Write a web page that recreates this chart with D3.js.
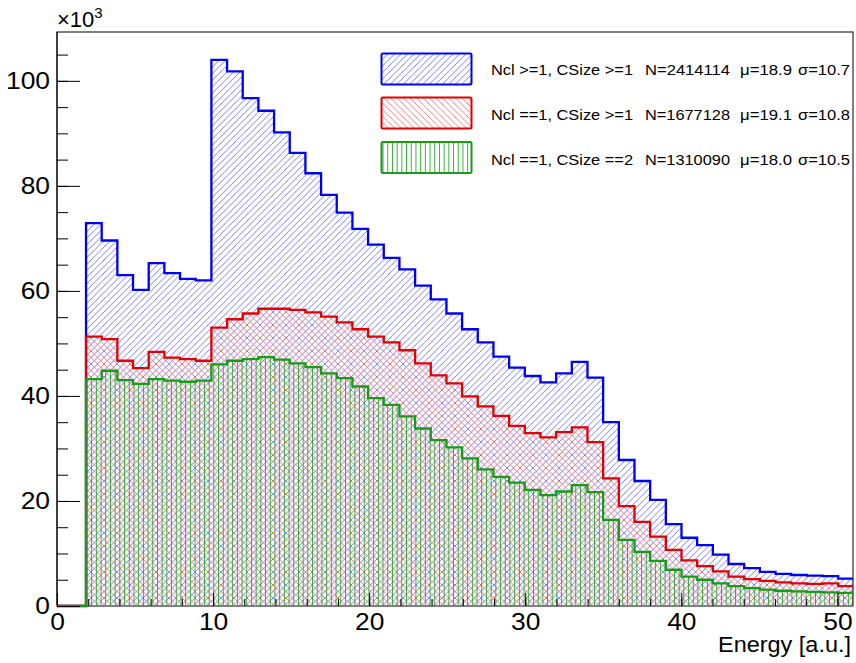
<!DOCTYPE html>
<html>
<head>
<meta charset="utf-8">
<script src="https://cdn.jsdelivr.net/npm/d3@7"></script>
<style>
  html, body { margin: 0; padding: 0; background: #fff; }
  svg { display: block; }
  text { font-family: "Liberation Sans", Arial, Helvetica, sans-serif; fill: #000; }
</style>
</head>
<body>
<svg id="chart" width="856" height="663"></svg>
<script>
// ---------------- data (counts in units of 10^3) ----------------
const binStart = 1.86;   // low edge of the first filled bin [a.u.]
const binWidth = 1.004;  // bin width [a.u.]
const seriesNames = ["Ncl >=1, CSize >=1", "Ncl ==1, CSize >=1", "Ncl ==1, CSize ==2"];
const seriesN = ["N=2414114", "N=1677128", "N=1310090"];
const seriesMu = ["\u03bc=18.9", "\u03bc=19.1", "\u03bc=18.0"];
const seriesSigma = ["\u03c3=10.7", "\u03c3=10.8", "\u03c3=10.5"];

const blueCounts = [72.9,69.6,63.0,60.2,65.3,63.4,62.3,62.0,104.0,101.8,96.7,94.3,90.2,86.3,82.4,78.3,74.9,71.8,68.8,66.3,64.1,61.0,58.4,55.7,52.7,50.2,47.5,45.4,43.8,42.6,44.3,46.5,43.5,35.0,27.8,23.8,20.2,15.6,13.0,11.6,9.8,8.0,7.2,6.5,6.1,5.9,5.8,5.7,5.2];
const redCounts = [51.3,50.8,46.7,45.3,48.4,47.3,47.0,46.7,53.0,54.6,55.7,56.6,56.6,56.4,55.9,55.1,54.0,52.7,51.3,50.2,48.7,46.2,43.9,42.4,39.9,38.0,36.2,34.3,32.9,32.1,33.1,34.0,31.2,24.3,19.0,16.0,13.2,10.7,8.7,7.6,6.6,5.6,5.1,4.8,4.5,4.3,4.2,4.3,3.8];
const greenCounts = [43.2,44.8,43.0,42.3,43.2,42.9,42.7,42.9,46.0,46.7,47.0,47.4,46.9,46.2,45.5,44.3,43.4,41.8,39.6,38.3,36.1,33.8,31.6,30.2,28.1,26.0,24.6,23.5,22.1,21.1,21.8,23.0,21.7,16.4,12.6,10.3,8.6,6.9,5.6,5.0,4.3,3.8,3.4,3.1,2.9,2.8,2.7,2.6,2.5];

const xMajorTicks = [0,10,20,30,40,50];
const xMinorTicks = d3.range(0, 52, 2);
const yMajorTicks = [0,20,40,60,80,100];
const yMinorTicks = d3.range(0, 110, 5);
const xTitle = "Energy [a.u.]";

// ---------------- layout ----------------
const frame = {left: 57, top: 32, right: 853, bottom: 606};
const xDomain = [0, 51];
const yDomain = [0, 109.3];

const svg = d3.select("#chart");
const x = d3.scaleLinear().domain(xDomain).range([frame.left, frame.right]);
const y = d3.scaleLinear().domain(yDomain).range([frame.bottom, frame.top]);

const colors = { blue: "#0000f0", red: "#e00000", green: "#1a9a1a" };

// ---------------- patterns ----------------
const defs = svg.append("defs");
defs.append("clipPath").attr("id", "frameClip")
  .append("rect").attr("x", frame.left).attr("y", frame.top)
  .attr("width", frame.right - frame.left).attr("height", frame.bottom - frame.top);
defs.append("clipPath").attr("id", "lineClip")
  .append("rect").attr("x", frame.left).attr("y", frame.top)
  .attr("width", frame.right - frame.left).attr("height", frame.bottom - frame.top + 1.5);

function hatch(id, w, h, lines, color, width) {
  const p = defs.append("pattern").attr("id", id)
    .attr("patternUnits", "userSpaceOnUse").attr("width", w).attr("height", h);
  lines.forEach(l => p.append("line")
    .attr("x1", l[0]).attr("y1", l[1]).attr("x2", l[2]).attr("y2", l[3])
    .attr("stroke", color).attr("stroke-width", width));
}
const s = 6.5;
hatch("hBlue", s, s, [[0, s, s, 0], [-s/2, s/2, s/2, -s/2], [s/2, s*1.5, s*1.5, s/2]], "#6a6af2", 0.9);
hatch("hRed", s, s, [[0, 0, s, s], [-s/2, s/2, s/2, s*1.5], [s/2, -s/2, s*1.5, s/2]], "#f47070", 0.9);
hatch("hGreen", 4.7, 10, [[2.35, 0, 2.35, 10]], "#22a822", 0.9);

// frame (drawn first so the histogram outlines sit on top of it)
svg.append("rect").attr("x", frame.left).attr("y", frame.top)
  .attr("width", frame.right - frame.left).attr("height", frame.bottom - frame.top)
  .attr("fill", "none").attr("stroke", "#000").attr("stroke-width", 1);

// ---------------- histogram helpers ----------------
function edges(counts) {
  return counts.map((c, i) => ({x0: binStart + i * binWidth, x1: binStart + (i + 1) * binWidth, v: c}));
}
function outlinePath(counts) {
  const b = edges(counts);
  let d = `M${x(xDomain[0])},${y(0)} L${x(b[0].x0)},${y(0)}`;
  b.forEach(e => { d += ` L${x(e.x0)},${y(e.v)} L${x(e.x1)},${y(e.v)}`; });
  d += ` L${x(b[b.length - 1].x1)},${y(0)}`;
  return d;
}
function areaPath(counts) {
  const b = edges(counts);
  let d = `M${x(b[0].x0)},${y(0)}`;
  b.forEach(e => { d += ` L${x(e.x0)},${y(e.v)} L${x(e.x1)},${y(e.v)}`; });
  d += ` L${x(b[b.length - 1].x1)},${y(0)} Z`;
  return d;
}

const plot = svg.append("g").attr("clip-path", "url(#frameClip)");
const lines = svg.append("g").attr("clip-path", "url(#lineClip)");
const hists = [
  {counts: blueCounts, color: colors.blue, fill: "url(#hBlue)"},
  {counts: redCounts, color: colors.red, fill: "url(#hRed)"},
  {counts: greenCounts, color: colors.green, fill: "url(#hGreen)"}
];
hists.forEach(h => {
  plot.append("path").attr("d", areaPath(h.counts)).attr("fill", h.fill).attr("stroke", "none");
});
hists.forEach(h => {
  lines.append("path").attr("d", outlinePath(h.counts)).attr("fill", "none")
    .attr("stroke", h.color).attr("stroke-width", 2.3).attr("stroke-linejoin", "miter");
});

// ---------------- axes ----------------
const axisFont = 24;
const digitW = 0.556 * axisFont * 1.1;
const gy = svg.append("g").attr("transform", `translate(${frame.left},0)`);
gy.call(d3.axisLeft(y).tickValues(yMinorTicks).tickSizeInner(-11).tickSizeOuter(0).tickFormat(""));
gy.call(g => g.select(".domain").remove());
const gy2 = svg.append("g").attr("transform", `translate(${frame.left},0)`);
gy2.call(d3.axisLeft(y).tickValues(yMajorTicks).tickSizeInner(-23).tickSizeOuter(0).tickPadding(7).tickFormat(d3.format("d")));
gy2.call(g => g.select(".domain").remove());
gy2.selectAll("text").attr("font-size", axisFont).attr("font-family", "Liberation Sans, Arial, sans-serif")
  .attr("textLength", d => String(d).length * digitW).attr("lengthAdjust", "spacingAndGlyphs");

const gx = svg.append("g").attr("transform", `translate(0,${frame.bottom})`);
gx.call(d3.axisBottom(x).tickValues(xMinorTicks).tickSizeInner(-7).tickSizeOuter(0).tickFormat(""));
gx.call(g => g.select(".domain").remove());
const gx2 = svg.append("g").attr("transform", `translate(0,${frame.bottom})`);
gx2.call(d3.axisBottom(x).tickValues(xMajorTicks).tickSizeInner(-13).tickSizeOuter(0).tickPadding(7).tickFormat(d3.format("d")));
gx2.call(g => g.select(".domain").remove());
gx2.selectAll("text").attr("font-size", axisFont).attr("font-family", "Liberation Sans, Arial, sans-serif")
  .attr("textLength", d => String(d).length * digitW).attr("lengthAdjust", "spacingAndGlyphs");
svg.selectAll(".tick line").attr("stroke", "#000").attr("stroke-width", 1);

// left axis line on top of everything (except the zero-line of the histograms)
svg.append("line").attr("x1", frame.left).attr("x2", frame.left)
  .attr("y1", frame.top).attr("y2", frame.bottom - 1).attr("stroke", "#000").attr("stroke-width", 1);

// x title
svg.append("text").attr("x", frame.right - 2).attr("y", 652).attr("text-anchor", "end")
  .attr("font-size", 22).attr("textLength", 133).attr("lengthAdjust", "spacingAndGlyphs").text(xTitle);

// exponent
const ex = svg.append("text").attr("x", frame.left).attr("y", 27).attr("font-size", 22);
ex.append("tspan").text("\u00d710");
ex.append("tspan").attr("dy", -9).attr("font-size", 15).text("3");

// ---------------- legend ----------------
const legend = svg.append("g");
const legRows = [
  {fill: "url(#hBlue)", color: colors.blue, y: 53.5, base: 75},
  {fill: "url(#hRed)", color: colors.red, y: 97.5, base: 120},
  {fill: "url(#hGreen)", color: colors.green, y: 142, base: 165}
];
const legCols = [
  {x: 491, w: 142, arr: seriesNames},
  {x: 645, w: 85, arr: seriesN},
  {x: 740, w: 52, arr: seriesMu},
  {x: 798, w: 52, arr: seriesSigma}
];
legRows.forEach((r, i) => {
  legend.append("rect").attr("x", 381.5).attr("y", r.y).attr("width", 90).attr("height", 31)
    .attr("fill", r.fill).attr("stroke", r.color).attr("stroke-width", 2).attr("rx", 1.5);
  legCols.forEach(c => {
    legend.append("text").attr("x", c.x).attr("y", r.base).attr("font-size", 15)
      .attr("textLength", c.w).attr("lengthAdjust", "spacingAndGlyphs").text(c.arr[i]);
  });
});
</script>
</body>
</html>
